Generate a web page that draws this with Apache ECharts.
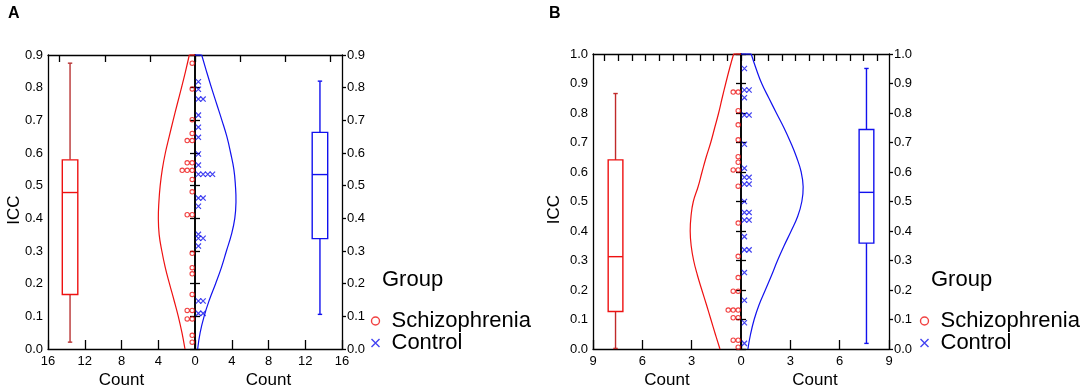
<!DOCTYPE html>
<html><head><meta charset="utf-8">
<script src="https://cdn.jsdelivr.net/npm/echarts@6/dist/echarts.min.js"></script>
<style>html,body{margin:0;padding:0;background:#fff}#c{width:1084px;height:388px}</style>
</head><body><div id="c"></div>
<script>
// ================= DATA =================
const groupNames = ['Schizophrenia', 'Control'];
// tick labels
const iccTicksA = [0.0,0.1,0.2,0.3,0.4,0.5,0.6,0.7,0.8,0.9];
const iccTicksB = [0.0,0.1,0.2,0.3,0.4,0.5,0.6,0.7,0.8,0.9,1.0];
const countTicksA = [-16,-12,-8,-4,0,4,8,12,16];
const countTicksB = [-9,-6,-3,0,3,6,9];

// individual ICC values (dot plots)
const schizoIccA = [0.875,0.796,0.702,0.660,0.638,0.638,0.570,0.570,0.547,0.547,0.547,0.519,0.481,0.411,0.411,0.293,0.249,0.230,0.167,0.118,0.118,0.092,0.092,0.042,0.021];
const controlIccA = [0.818,0.795,0.765,0.765,0.716,0.679,0.648,0.597,0.563,0.535,0.535,0.535,0.535,0.462,0.462,0.437,0.351,0.339,0.339,0.315,0.147,0.147,0.109,0.109];
const schizoIccB = [0.871,0.871,0.808,0.760,0.709,0.652,0.633,0.607,0.607,0.552,0.427,0.314,0.242,0.196,0.196,0.132,0.132,0.132,0.106,0.106,0.030,0.030,0.006];
const controlIccB = [0.951,0.878,0.878,0.852,0.793,0.793,0.694,0.613,0.582,0.582,0.559,0.559,0.500,0.463,0.463,0.437,0.437,0.381,0.336,0.336,0.259,0.165,0.089,0.019];

// box plots: [min, Q1, median, Q3, max]
const schizoBoxA = [0.021,0.167,0.479,0.579,0.875];
const controlBoxA = [0.106,0.338,0.534,0.663,0.820];
const schizoBoxB = [0.002,0.127,0.313,0.641,0.866];
const controlBoxB = [0.019,0.359,0.531,0.744,0.951];

// density curves (count magnitude at each ICC level)
const densityIccA = [0,0.05,0.1,0.15,0.2,0.25,0.3,0.35,0.4,0.45,0.5,0.55,0.6,0.65,0.7,0.75,0.8,0.85,0.9];
const schizoDensityA = [1.09,1.42,1.82,2.29,2.78,3.24,3.61,3.90,3.99,3.93,3.79,3.56,3.23,2.81,2.38,1.93,1.47,1.03,0.62];
const controlDensityA = [0.29,0.56,0.99,1.56,2.24,2.88,3.42,3.96,4.33,4.46,4.40,4.23,3.88,3.47,2.93,2.36,1.79,1.25,0.73];
const densityIccB = [0,0.05,0.1,0.15,0.2,0.25,0.3,0.35,0.4,0.45,0.5,0.55,0.6,0.65,0.7,0.75,0.8,0.85,0.9,0.95,1.0];
const schizoDensityB = [1.28,1.56,1.83,2.10,2.38,2.65,2.88,3.03,3.09,3.04,2.90,2.61,2.37,2.12,1.84,1.60,1.36,1.15,0.93,0.70,0.45];
const controlDensityB = [0.42,0.58,0.80,1.10,1.48,1.86,2.22,2.62,3.05,3.45,3.70,3.78,3.66,3.38,3.02,2.61,2.15,1.70,1.26,0.92,0.62];

// ================= LAYOUT / STYLE =================
const RED = '#ee1111', BLUE = '#1111ee';
const FONT = 'Liberation Sans, Arial, sans-serif';
const panels = [
  { label:'A', left:48, top:55, width:294, height:294,
    iccTicks:iccTicksA, countTicks:countTicksA, topRange:3.26, topTicks:[-3,-2,-1,0,1,2,3],
    boxX:13.6, boxPx:15.5,
    schizoIcc:schizoIccA, controlIcc:controlIccA, schizoBox:schizoBoxA, controlBox:controlBoxA,
    densityIcc:densityIccA, schizoDensity:schizoDensityA, controlDensity:controlDensityA,
    labelX:8, iccX:14, legendShift:0, schizoWhisker:'#b83333', controlWhisker:BLUE },
  { label:'B', left:593, top:54, width:296, height:295,
    iccTicks:iccTicksB, countTicks:countTicksB, topRange:10.86, topTicks:[-10,-9,-8,-7,-6,-5,-4,-3,-2,-1,0,1,2,3,4,5,6,7,8,9,10],
    boxX:7.63, boxPx:14.7,
    schizoIcc:schizoIccB, controlIcc:controlIccB, schizoBox:schizoBoxB, controlBox:controlBoxB,
    densityIcc:densityIccB, schizoDensity:schizoDensityB, controlDensity:controlDensityB,
    labelX:549, iccX:554, legendShift:549, schizoWhisker:'#c02a2a', controlWhisker:BLUE }
];

const grids = [], xAxes = [], yAxes = [], series = [], legends = [], graphics = [];
const black = {color:'#000', width:1.3};

function stackDots(values, sign, firstPx, stepPx, pxPerCount) {
  const seen = {};
  return values.map(v => {
    const k = seen[v] || 0; seen[v] = k + 1;
    return [sign * (firstPx + k * stepPx) / pxPerCount, v];
  });
}

function boxRenderer(stroke, whisker, boxPx) {
  return function (params, api) {
    const x = api.value(0);
    const p = i => api.coord([x, api.value(i)]);
    const lo = p(1), q1 = p(2), md = p(3), q3 = p(4), hi = p(5);
    const cx = md[0], h = boxPx / 2, c = 2.2;
    const ws = {stroke: whisker, lineWidth: 1.4};
    const bs = {stroke: stroke, lineWidth: 1.4, fill: '#fff'};
    return {type:'group', children:[
      {type:'line', shape:{x1:cx,y1:hi[1],x2:cx,y2:q3[1]}, style:ws},
      {type:'line', shape:{x1:cx,y1:q1[1],x2:cx,y2:lo[1]}, style:ws},
      {type:'line', shape:{x1:cx-c,y1:hi[1],x2:cx+c,y2:hi[1]}, style:ws},
      {type:'line', shape:{x1:cx-c,y1:lo[1],x2:cx+c,y2:lo[1]}, style:ws},
      {type:'rect', shape:{x:cx-h,y:q3[1],width:boxPx,height:q1[1]-q3[1]}, style:bs},
      {type:'line', shape:{x1:cx-h,y1:md[1],x2:cx+h,y2:md[1]}, style:{stroke:stroke,lineWidth:1.4}}
    ]};
  };
}

// smooth curve through all points of the series, positioned by the axes
function curveRenderer(stroke) {
  return function (params, api) {
    if (params.dataIndex !== 0) return null;
    const n = params.dataInsideLength;
    const pts = [];
    for (let i = 0; i < n; i++) pts.push(api.coord([api.value(0, i), api.value(1, i)]));
    return {type:'polyline', shape:{points:pts, smooth:0.45}, style:{stroke:stroke, lineWidth:1.2, fill:null}};
  };
}

panels.forEach(p => {
  const gi = grids.length, xi = xAxes.length, yi = yAxes.length;
  const cMin = p.countTicks[0], cMax = p.countTicks[p.countTicks.length-1], cStep = p.countTicks[1]-p.countTicks[0];
  const iMin = p.iccTicks[0], iMax = p.iccTicks[p.iccTicks.length-1], iStep = +(p.iccTicks[1]-p.iccTicks[0]).toFixed(2);
  const pxPerCount = p.width / (cMax - cMin);
  grids.push({left:p.left, top:p.top, width:p.width, height:p.height, containLabel:false});

  xAxes.push({gridIndex:gi, type:'value', position:'bottom', min:cMin, max:cMax, interval:cStep,
    axisLine:{onZero:false, lineStyle:black},
    axisTick:{inside:true, length:9, lineStyle:black},
    axisLabel:{formatter:v => String(Math.abs(v)), fontSize:13, color:'#000', margin:6, fontFamily:FONT, hideOverlap:false},
    splitLine:{show:false}});
  xAxes.push({gridIndex:gi, type:'value', position:'top', min:-p.topRange, max:p.topRange,
    axisLine:{onZero:false, lineStyle:black},
    axisTick:{inside:true, length:7, lineStyle:black, customValues:p.topTicks},
    axisLabel:{show:false}, splitLine:{show:false}});

  const yBase = {gridIndex:gi, type:'value', min:iMin, max:iMax, interval:iStep, splitLine:{show:false}};
  const yLab = {formatter:v => v.toFixed(1), fontSize:13, color:'#000', margin:5, fontFamily:FONT};
  yAxes.push(Object.assign({}, yBase, {position:'left', axisLine:{onZero:false, lineStyle:black}, axisTick:{show:false}, axisLabel:yLab}));
  yAxes.push(Object.assign({}, yBase, {position:'right', axisLine:{onZero:false, lineStyle:black}, axisTick:{inside:false, length:4, lineStyle:black}, axisLabel:yLab}));
  yAxes.push(Object.assign({}, yBase, {position:'left', axisLine:{onZero:true, onZeroAxisIndex:xi, lineStyle:{color:'#000', width:1.6}}, axisTick:{inside:true, length:5, lineStyle:black}, axisLabel:{show:false}}));
  yAxes.push(Object.assign({}, yBase, {position:'left', axisLine:{onZero:true, onZeroAxisIndex:xi, lineStyle:{color:'#000', width:1.6}}, axisTick:{inside:false, length:5, lineStyle:black}, axisLabel:{show:false}}));

  const ax = {xAxisIndex:xi, yAxisIndex:yi};
  // density curves
  const sData = p.densityIcc.map((v,i) => [-p.schizoDensity[i], v]);
  const cData = p.densityIcc.map((v,i) => [p.controlDensity[i], v]);
  const curveCommon = Object.assign({type:'custom', silent:true, animation:false, z:2, clip:false, encode:{x:0, y:1}}, ax);
  series.push(Object.assign({}, curveCommon, {data:sData, renderItem:curveRenderer(RED)}));
  series.push(Object.assign({}, curveCommon, {data:cData, renderItem:curveRenderer(BLUE)}));
  const lineCommon = Object.assign({type:'line', smooth:false, showSymbol:false, silent:true, animation:false, z:2, clip:false}, ax);
  series.push(Object.assign({}, lineCommon, {data:[sData[sData.length-1], [0, iMax]], lineStyle:{color:RED, width:1.2}}));
  series.push(Object.assign({}, lineCommon, {data:[cData[cData.length-1], [0, iMax]], lineStyle:{color:BLUE, width:1.2}}));

  // box plots
  series.push(Object.assign({type:'custom', renderItem:boxRenderer(RED, p.schizoWhisker, p.boxPx), silent:true, animation:false, z:2,
    encode:{x:0, y:[1,2,3,4,5]}, data:[[-p.boxX].concat(p.schizoBox)]}, ax));
  series.push(Object.assign({type:'custom', renderItem:boxRenderer(BLUE, p.controlWhisker, p.boxPx), silent:true, animation:false, z:2,
    encode:{x:0, y:[1,2,3,4,5]}, data:[[p.boxX].concat(p.controlBox)]}, ax));

  // dot plots
  series.push(Object.assign({type:'scatter', name:groupNames[0], symbol:'circle', symbolSize:4.4, animation:false, z:4,
    itemStyle:{color:'rgba(255,255,255,0)', borderColor:RED, borderWidth:1.1},
    data:stackDots(p.schizoIcc, -1, 2.8, 5.0, pxPerCount)}, ax));
  series.push(Object.assign({type:'scatter', name:groupNames[1], symbol:'path://M0,0L10,10M10,0L0,10', symbolSize:5.2, animation:false, z:4,
    itemStyle:{color:'none', borderColor:BLUE, borderWidth:1.2},
    data:stackDots(p.controlIcc, 1, 3.4, 4.7, pxPerCount)}, ax));

  // legend
  legends.push({data:groupNames, orient:'vertical', left:364 + p.legendShift, top:305, itemWidth:22, itemHeight:8, itemGap:0,
    selectedMode:false, textStyle:{fontSize:22, lineHeight:21, color:'#000', fontFamily:FONT},
    itemStyle:{borderWidth:1.4}});

  // texts
  graphics.push({type:'text', x:382 + p.legendShift, y:280, style:{text:'Group', fontSize:22, fontFamily:FONT, fill:'#000', align:'left', verticalAlign:'middle'}});
  graphics.push({type:'text', x:p.labelX, y:6, style:{text:p.label, fontSize:16, fontWeight:'bold', fontFamily:FONT, fill:'#000', align:'left', verticalAlign:'top'}});
  graphics.push({type:'text', x:p.iccX, y:p.top + p.height/2 + 8, rotation:Math.PI/2, style:{text:'ICC', fontSize:17, fontFamily:FONT, fill:'#000', align:'center', verticalAlign:'middle'}});
  graphics.push({type:'text', x:p.left + p.width/4, y:380, style:{text:'Count', fontSize:17, fontFamily:FONT, fill:'#000', align:'center', verticalAlign:'middle'}});
  graphics.push({type:'text', x:p.left + 3*p.width/4, y:380, style:{text:'Count', fontSize:17, fontFamily:FONT, fill:'#000', align:'center', verticalAlign:'middle'}});
});

const chart = echarts.init(document.getElementById('c'), null, {renderer:'canvas'});
chart.setOption({
  backgroundColor:'#fff',
  animation:false,
  textStyle:{fontFamily:FONT},
  grid:grids, xAxis:xAxes, yAxis:yAxes, series:series, legend:legends,
  graphic:graphics
});
</script></body></html>
